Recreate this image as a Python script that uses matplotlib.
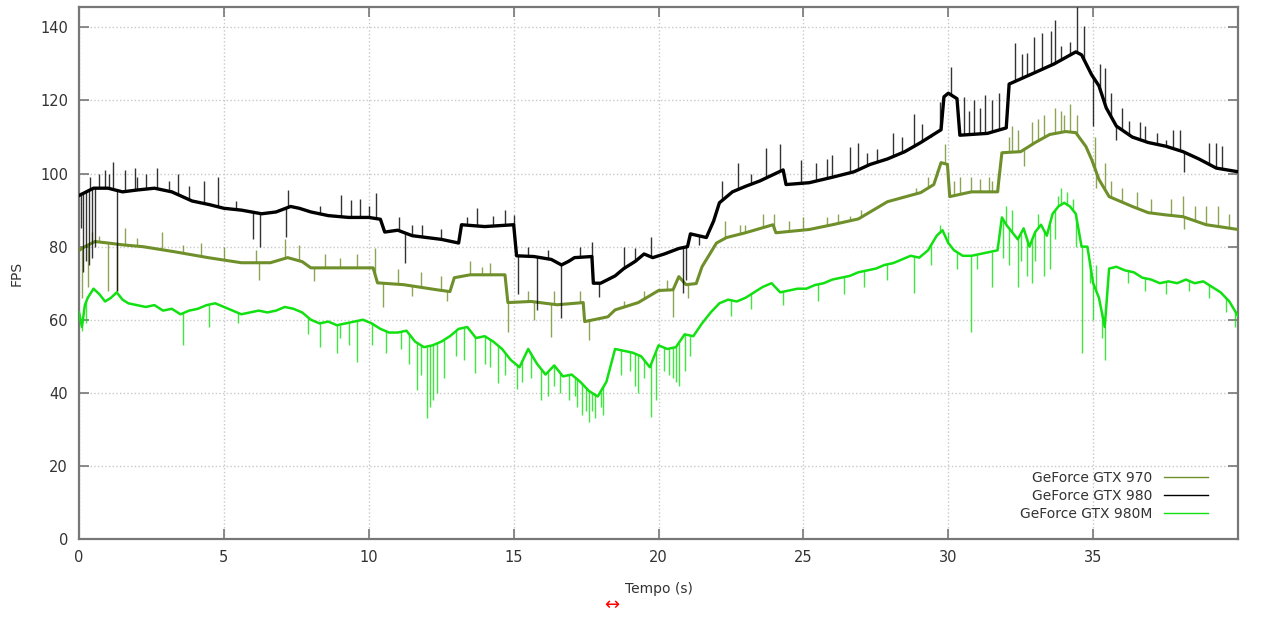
import matplotlib
matplotlib.use('Agg')
import matplotlib.pyplot as plt
import numpy as np

# GeForce GTX 980 (black) - main trace
gtx980_t = [0, 0.5, 1.0, 1.5, 2.0, 2.6, 3.2, 3.9, 4.5, 5.0, 5.6, 6.3, 6.8, 7.3, 7.6, 8.0,
            8.6, 9.3, 10.0, 10.4, 10.55, 11.0, 11.5, 12.0, 12.5, 13.1, 13.2, 14.0, 15.0,
            15.1, 15.7, 16.3, 16.65, 16.9, 17.1, 17.7, 17.75, 18.0, 18.5, 18.8, 19.2, 19.5,
            19.8, 20.2, 20.7, 21.0, 21.1, 21.65, 21.9, 22.1, 22.55, 23.0, 23.5, 24.3, 24.4,
            25.2, 26.0, 26.75, 27.3, 27.9, 28.5, 29.05, 29.75, 29.85, 30.0, 30.3, 30.4,
            31.35, 32.0, 32.1, 32.95, 33.65, 34.4, 34.6, 34.95, 35.2, 35.45, 35.8, 36.35,
            36.9, 37.5, 38.1, 38.65, 39.25, 40.0]
gtx980_v = [94, 96, 96, 95, 95.5, 96, 95, 92.5, 91.5, 90.5, 90, 89, 89.5, 91, 90.5, 89.5,
            88.5, 88, 88, 87.5, 84, 84.5, 83, 82.5, 82, 81, 86, 85.5, 86,
            77.5, 77.3, 76.5, 75, 76, 77, 77.3, 70, 70, 72, 74, 76, 78,
            77, 78, 79.5, 80, 83.5, 82.5, 87, 92, 95, 96.5, 98, 101, 97,
            97.5, 99, 100.5, 102.5, 104, 106, 108.5, 112, 121, 122, 120.5, 110.5,
            111, 112.5, 124.5, 127.5, 130, 133.3, 132.5, 127, 124, 118, 113, 110,
            108.5, 107.5, 106, 104, 101.5, 100.5]
# GTX 980 spikes (time, fps)
gtx980_spk_t = [0.05, 0.15, 0.25, 0.35, 0.45, 0.55, 0.38, 0.7, 0.9, 1.17, 1.3, 1.6, 1.93,
                2.3, 2.7, 3.4, 3.8, 4.3, 4.8, 6.0, 6.25, 7.15, 7.2, 9.05, 9.4, 9.7,
                10.25, 11.05, 11.25, 11.5, 11.85, 12.5, 13.75, 14.7, 15.0, 15.15, 15.5,
                15.8, 16.65, 17.3, 17.7, 17.95, 18.8, 19.75, 20.85, 20.95, 22.2, 22.75,
                23.7, 24.2, 24.9, 25.45, 26.0, 26.6, 26.9, 27.2, 27.55, 28.1, 28.8, 29.1,
                29.7, 30.1, 30.55, 30.9, 31.25, 31.5, 31.75, 32.3, 32.55, 32.95, 33.25,
                33.55, 33.7, 34.45, 34.7, 35.0, 35.25, 35.4, 35.6, 35.8, 36.0, 36.25,
                36.6, 36.8, 37.2, 37.5, 37.75, 38.0, 38.15, 39.0, 39.25, 39.45,
                1.05, 2.0, 3.1, 5.4, 8.3, 10.0, 13.4, 14.3, 16.2, 19.2, 21.4, 23.2,
                25.8, 28.4, 29.4, 30.7, 31.1, 32.7, 33.9, 34.2]
gtx980_spk_v = [85, 73, 76, 75, 77, 80, 99, 100, 101, 103.3, 68, 101, 101.5,
                99.8, 101.5, 100, 96.5, 98, 99, 82, 80, 82.7, 95.6, 94.2, 92.9, 93,
                94.8, 88, 75.6, 86, 86, 84.7, 90.7, 90.1, 88.8, 67, 80,
                62.7, 60.5, 80, 81.4, 66.3, 80, 82.7, 67.4, 71, 98, 103,
                107, 108, 103.8, 103, 105, 107.4, 108.5, 105.6, 106.6, 111.2, 116.2, 113.6,
                119.5, 129.3, 121, 120, 121.5, 120, 122, 135.6, 132.6, 137.3, 138.6,
                139, 142, 145.5, 140.5, 112.9, 130, 129, 122, 109.3, 118, 114.5,
                114, 112.9, 111, 109.3, 112, 112, 100.3, 108.5, 108.5, 107.5,
                100, 99, 98, 92.5, 91, 91, 88, 88.5, 79, 79.5, 80.5, 100,
                104, 110, 110, 117, 118, 133, 135, 136]

# GeForce GTX 970 (olive)
gtx970_t = [0, 0.2, 0.55, 1.0, 1.5, 2.2, 3.3, 4.45, 5.6, 6.6, 7.2, 7.7, 8.0, 8.9, 10.15,
            10.3, 11.2, 12.35, 12.8, 12.95, 13.5, 14.7, 14.8, 15.6, 16.5, 17.4, 17.45,
            18.25, 18.5, 19.3, 20.0, 20.5, 20.7, 20.95, 21.3, 21.5, 22.0, 22.35, 23.0,
            23.95, 24.05, 25.2, 26.0, 26.9, 27.9, 29.05, 29.5, 29.75, 29.97, 30.05, 30.8,
            31.7, 31.85, 32.5, 33.0, 33.5, 34.05, 34.4, 34.75, 34.95, 35.2, 35.55, 36.35,
            36.9, 37.5, 38.1, 38.9, 39.5, 40.0]
gtx970_v = [79, 80, 81.4, 81, 80.5, 80, 78.6, 77, 75.6, 75.6, 77, 75.9, 74.2, 74.2, 74.2,
            70.1, 69.6, 68.2, 67.7, 71.5, 72.3, 72.3, 64.7, 65, 64.1, 64.7, 59.5,
            60.8, 62.7, 64.7, 68, 68.2, 71.8, 69.6, 69.9, 74.5, 81, 82.5, 83.8,
            86, 83.8, 84.7, 86, 87.6, 92.3, 94.8, 97, 103, 102.5, 93.7, 95,
            95, 105.7, 106, 108.5, 110.7, 111.5, 111.2, 107.4, 103.8, 98.4, 93.7, 91,
            89.3, 88.7, 88.2, 86, 85.3, 84.7]
gtx970_spk_t = [0.1, 0.3, 0.45, 1.0, 1.3, 1.6, 2.85, 4.2, 5.0, 6.1, 6.2, 7.1, 7.6, 8.1,
                8.5, 9.6, 10.2, 10.5, 11.0, 11.5, 11.8, 12.5, 12.7, 13.5, 14.2, 14.8,
                15.5, 15.7, 16.3, 16.4, 17.3, 17.6, 18.8, 19.5, 20.3, 20.5, 22.3, 23.0,
                23.6, 24.0, 25.0, 25.8, 26.6, 27.0, 27.8, 28.4, 28.9, 29.3, 29.6, 29.9,
                30.4, 30.8, 31.1, 31.4, 31.7, 32.1, 32.4, 32.6, 32.9, 33.3, 33.7, 34.2,
                34.45, 35.05, 35.1, 35.4, 35.6, 36.0, 36.5, 37.0, 37.7, 38.1, 38.15,
                38.5, 38.9, 39.3, 39.7,
                0.7, 2.0, 3.6, 9.0, 13.9, 21.0, 22.8, 24.5, 26.2, 28.1, 30.2, 31.5,
                32.2, 33.1, 33.9, 34.0]
gtx970_spk_v = [66, 69, 84, 68, 68, 85, 84, 81, 80, 79, 71, 82, 80.5, 70.5,
                78, 78, 79.5, 63.6, 74, 66.5, 73, 72, 65, 76, 75.5, 56.7,
                68, 60, 55.3, 68, 68, 54.5, 65, 68, 71, 60.8, 87, 86,
                89, 89, 88, 88, 88.5, 90, 92, 94, 96, 99, 101, 108,
                99, 99, 98.5, 99, 100, 110, 112, 102, 114, 116, 118, 119,
                116, 110, 96, 103, 98, 96, 95, 93, 93, 94, 84.7,
                91, 91, 91, 89,
                83, 82.5, 80.5, 77, 74.5, 66, 86, 87, 89, 93, 98, 98,
                113, 115, 117, 116]

# GeForce GTX 980M (green)
gtx980m_t = [0.0, 0.1, 0.2, 0.3, 0.5, 0.7, 0.9, 1.1, 1.3, 1.5, 1.7, 2.0, 2.3, 2.6, 2.9,
             3.2, 3.5, 3.8, 4.1, 4.4, 4.7, 5.0, 5.3, 5.6, 5.9, 6.2, 6.5, 6.8, 7.1, 7.4,
             7.7, 8.0, 8.3, 8.6, 8.9, 9.2, 9.5, 9.8, 10.1, 10.4, 10.7, 11.0, 11.3, 11.6,
             11.9, 12.2, 12.5, 12.8, 13.1, 13.4, 13.7, 14.0, 14.3, 14.6, 14.9, 15.2,
             15.5, 15.8, 16.1, 16.4, 16.7, 17.0, 17.3, 17.6, 17.9, 18.2, 18.5, 18.8,
             19.1, 19.4, 19.7, 20.0, 20.3, 20.6, 20.9, 21.2, 21.5, 21.8, 22.1, 22.4,
             22.7, 23.0, 23.3, 23.6, 23.9, 24.2, 24.5, 24.8, 25.1, 25.4, 25.7, 26.0,
             26.3, 26.6, 26.9, 27.2, 27.5, 27.8, 28.1, 28.4, 28.7, 29.0, 29.3, 29.6,
             29.8, 30.0, 30.2, 30.5, 30.8, 31.1, 31.4, 31.7, 31.85, 32.0, 32.2, 32.4,
             32.6, 32.8, 33.0, 33.2, 33.4, 33.6, 33.8, 34.0, 34.2, 34.4, 34.6, 34.8,
             35.0, 35.2, 35.4, 35.55, 35.8, 36.1, 36.4, 36.7, 37.0, 37.3, 37.6, 37.9,
             38.2, 38.5, 38.8, 39.1, 39.4, 39.7, 40.0]
gtx980m_v = [62, 58, 64, 66, 68.5, 67, 65, 66, 67.5, 65.5, 64.5, 64, 63.5, 64, 62.5,
             63, 61.5, 62.5, 63, 64, 64.5, 63.5, 62.5, 61.5, 62, 62.5, 62, 62.5, 63.5, 63,
             62, 60, 59, 59.5, 58.5, 59, 59.5, 60, 59, 57.5, 56.5, 56.5, 57, 54,
             52.5, 53, 54, 55.5, 57.5, 58, 55, 55.5, 54, 52, 49, 47,
             52, 48, 45, 47.5, 44.5, 45, 43, 40.5, 39, 43, 52, 51.5,
             51, 50, 47, 53, 52, 52.5, 56, 55.5, 59, 62, 64.5, 65.5,
             65, 66, 67.5, 69, 70, 67.5, 68, 68.5, 68.5, 69.5, 70, 71,
             71.5, 72, 73, 73.5, 74, 75, 75.5, 76.5, 77.5, 77, 79, 83,
             84.5, 81, 79, 77.5, 77.5, 78, 78.5, 79, 88, 86, 84, 82,
             85, 80, 84, 86, 83, 89, 91, 92, 91, 89, 80, 80,
             70, 66, 58, 74, 74.5, 73.5, 73, 71.5, 71, 70, 70.5, 70,
             71, 70, 70.5, 69, 67.5, 65, 61]
gtx980m_spk_t = [0.1, 0.25, 3.6, 8.3, 8.9, 9.6, 10.6, 11.65, 12.0, 12.1, 12.35, 13.65,
                 14.45, 15.3, 15.95, 16.6, 17.2, 17.5, 17.6, 17.8, 18.0, 19.3, 19.75,
                 20.5, 20.7, 28.8, 29.7, 30.8, 31.5, 32.0, 32.4, 32.9, 33.3, 33.9, 34.1,
                 34.6, 35.0, 35.4, 39.9,
                 4.5, 5.5, 7.9, 9.0, 9.3, 10.1, 11.1, 11.4, 11.8, 12.2, 12.6, 13.0,
                 13.3, 14.0, 14.2, 14.7, 15.1, 15.6, 16.2, 16.4, 16.9, 17.1, 17.35,
                 17.7, 18.1, 18.7, 19.0, 19.2, 19.5, 19.9, 20.2, 20.35, 20.6, 20.9,
                 21.1, 22.5, 23.2, 24.3, 25.5, 26.4, 27.1, 27.9, 29.4, 30.0, 30.3,
                 31.0, 31.9, 32.1, 32.2, 32.5, 32.7, 33.0, 33.1, 33.5, 33.7, 33.8,
                 34.3, 34.4, 34.9, 35.1, 35.3, 36.2, 36.8, 37.5, 38.3, 39.0, 39.6]
gtx980m_spk_v = [57, 59, 53, 52.5, 51, 48.5, 51, 40.8, 33, 36, 40, 45.5,
                 42.7, 43, 38, 40, 36.2, 35, 32, 33, 36, 40, 33.4,
                 44, 42, 67.4, 86, 56.7, 69, 91, 69, 70, 72, 96, 95,
                 51, 60, 49, 58,
                 58, 59, 56, 55, 53, 53, 52, 48, 45, 38, 44, 50,
                 49, 48, 47, 45, 41, 44, 39, 42, 38, 39, 34,
                 35, 34, 45, 46, 42, 44, 38, 46, 45, 43, 46,
                 50, 61, 63, 64, 65, 67, 69, 71, 75, 84, 74,
                 74, 77, 75, 90, 76, 72, 76, 89, 74, 82, 94,
                 93, 80, 70, 75, 55, 70, 68, 67, 68, 66, 62]

c970 = '#6f8f2a'
c980 = '#000000'
c980m = '#11e011'

fig = plt.figure(figsize=(12.69, 6.25), dpi=100)
ax = fig.add_axes([0.0623, 0.1376, 0.9133, 0.8507])

series = [
    ('GeForce GTX 970', gtx970_t, gtx970_v, gtx970_spk_t, gtx970_spk_v, c970, 2.2),
    ('GeForce GTX 980', gtx980_t, gtx980_v, gtx980_spk_t, gtx980_spk_v, c980, 2.4),
    ('GeForce GTX 980M', gtx980m_t, gtx980m_v, gtx980m_spk_t, gtx980m_spk_v, c980m, 1.8),
]
for name, t, v, st, sv, col, lw in series:
    ax.plot(t, v, color=col, lw=lw, label=name, zorder=3)
    base = np.interp(st, t, v)
    ax.vlines(st, base, sv, colors=col, lw=1.0, alpha=0.8, zorder=3)

ax.set_xlim(0, 40)
ax.set_ylim(0, 145.5)
ax.set_xticks(np.arange(0, 36, 5))
ax.set_yticks(np.arange(0, 141, 20))
ax.grid(True, color='#c8c8c8', linestyle=':', lw=1.0)
ax.tick_params(direction='in', length=7, width=1.2, color='#777777',
               top=True, right=True, labelsize=10.5, labelcolor='#333333', pad=8)
for s in ax.spines.values():
    s.set_color('#777777')
    s.set_linewidth(1.6)

ax.set_xlabel('Tempo (s)', fontsize=10, color='#333333', labelpad=12)
ax.set_ylabel('FPS', fontsize=10, color='#333333', labelpad=12)

leg = ax.legend(loc='lower right', frameon=False, markerfirst=False, fontsize=10,
                handlelength=3.2, labelspacing=0.3, bbox_to_anchor=(0.985, 0.01))
for txt in leg.get_texts():
    txt.set_color('#333333')
for h in leg.get_lines():
    h.set_linewidth(1.0)

fig.text(0.482, 0.018, '\u2194', color='red', fontsize=13, ha='center', va='bottom')

fig.savefig('out.png', dpi=100)
